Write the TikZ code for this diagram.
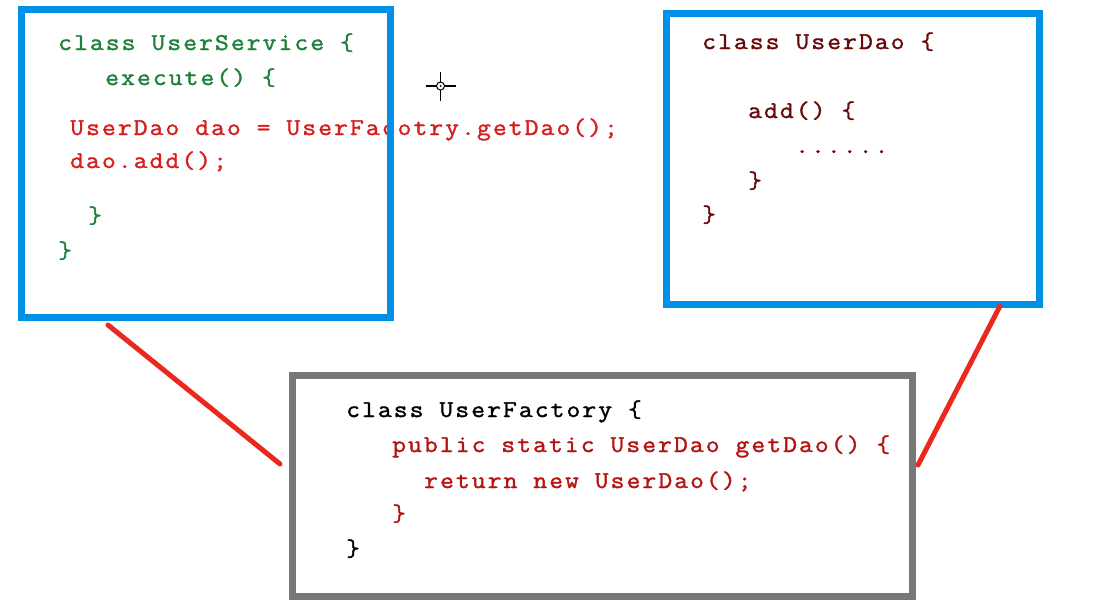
\documentclass[tikz,border=0pt]{standalone}
\usepackage{fontspec}
\usetikzlibrary{calc}
\newfontfamily\codefont{Latin Modern Mono}[FakeStretch=1.12,LetterSpace=8.5,FakeBold=1.5]
\definecolor{boxblue}{RGB}{0,145,230}
\definecolor{boxgray}{RGB}{120,120,120}
\definecolor{linkred}{RGB}{235,40,30}
\definecolor{svcgreen}{RGB}{30,130,60}
\definecolor{callred}{RGB}{215,30,30}
\definecolor{daored}{RGB}{105,10,10}
\definecolor{facred}{RGB}{180,20,20}
\tikzset{
  code/.style={anchor=base west,inner sep=0pt,font=\codefont\fontsize{24}{24}\selectfont},
  frame/.style={draw,line width=7pt,fill=none,inner sep=0pt,minimum width=#1},
  link/.style={draw=linkred,line width=5pt,line cap=round},
}
\begin{document}
\begin{tikzpicture}[x=1pt,y=-1pt]
\useasboundingbox[fill=white] (0,0) rectangle (1109,611);
% UserService text
\node[code,text=svcgreen] (s1) at (58,50) {class UserService \{};
\node[code,text=svcgreen] (s2) at (105,85) {execute() \{};
\node[code,text=callred] (s3) at (70,135) {UserDao dao = UserFacotry.getDao();};
\node[code,text=callred] (s4) at (70,168) {dao.add();};
\node[code,text=svcgreen] (s5) at (88,223) {\}};
\node[code,text=svcgreen] (s6) at (58,258) {\}};
% UserDao text
\node[code,text=daored] (d1) at (702,49) {class UserDao \{};
\node[code,text=daored] (d2) at (748,118) {add() \{};
\node[code,text=daored] (d3) at (795,153) {......};
\node[code,text=daored] (d4) at (748,188) {\}};
\node[code,text=daored] (d5) at (702,222) {\}};
% UserFactory text
\node[code,text=black] (f1) at (346,417) {class UserFactory \{};
\node[code,text=facred] (f2) at (392,452) {public static UserDao getDao() \{};
\node[code,text=facred] (f3) at (424,488) {return new UserDao();};
\node[code,text=facred] (f4) at (392,521) {\}};
\node[code,text=black] (f5) at (346,556) {\}};
% frames
\node[frame=369pt,draw=boxblue,minimum height=308pt] (svc) at (206,163.5) {};
\node[frame=373pt,draw=boxblue,minimum height=291pt] (dao) at (853,159) {};
\node[frame=620pt,draw=boxgray,minimum height=221pt] (fac) at (602.5,486) {};
% connectors
\coordinate (a1) at (108,325);
\coordinate (a2) at (280,464);
\coordinate (b1) at (1000,306);
\coordinate (b2) at (918,465);
\draw[link] (a1) -- (a2);
\draw[link] (b1) -- (b2);
% cursor
\coordinate (cur) at (440.5,86);
\draw[line width=1.3pt] ($(cur)+(0,-14)$) -- ($(cur)+(0,-4)$)
  ($(cur)+(0,4)$) -- ($(cur)+(0,15)$)
  ($(cur)+(-15,0)$) -- ($(cur)+(-4,0)$)
  ($(cur)+(4,0)$) -- ($(cur)+(15,0)$);
\draw[line width=1pt] (cur) circle[radius=4];
\fill (cur) circle[radius=1];
\end{tikzpicture}
\end{document}
